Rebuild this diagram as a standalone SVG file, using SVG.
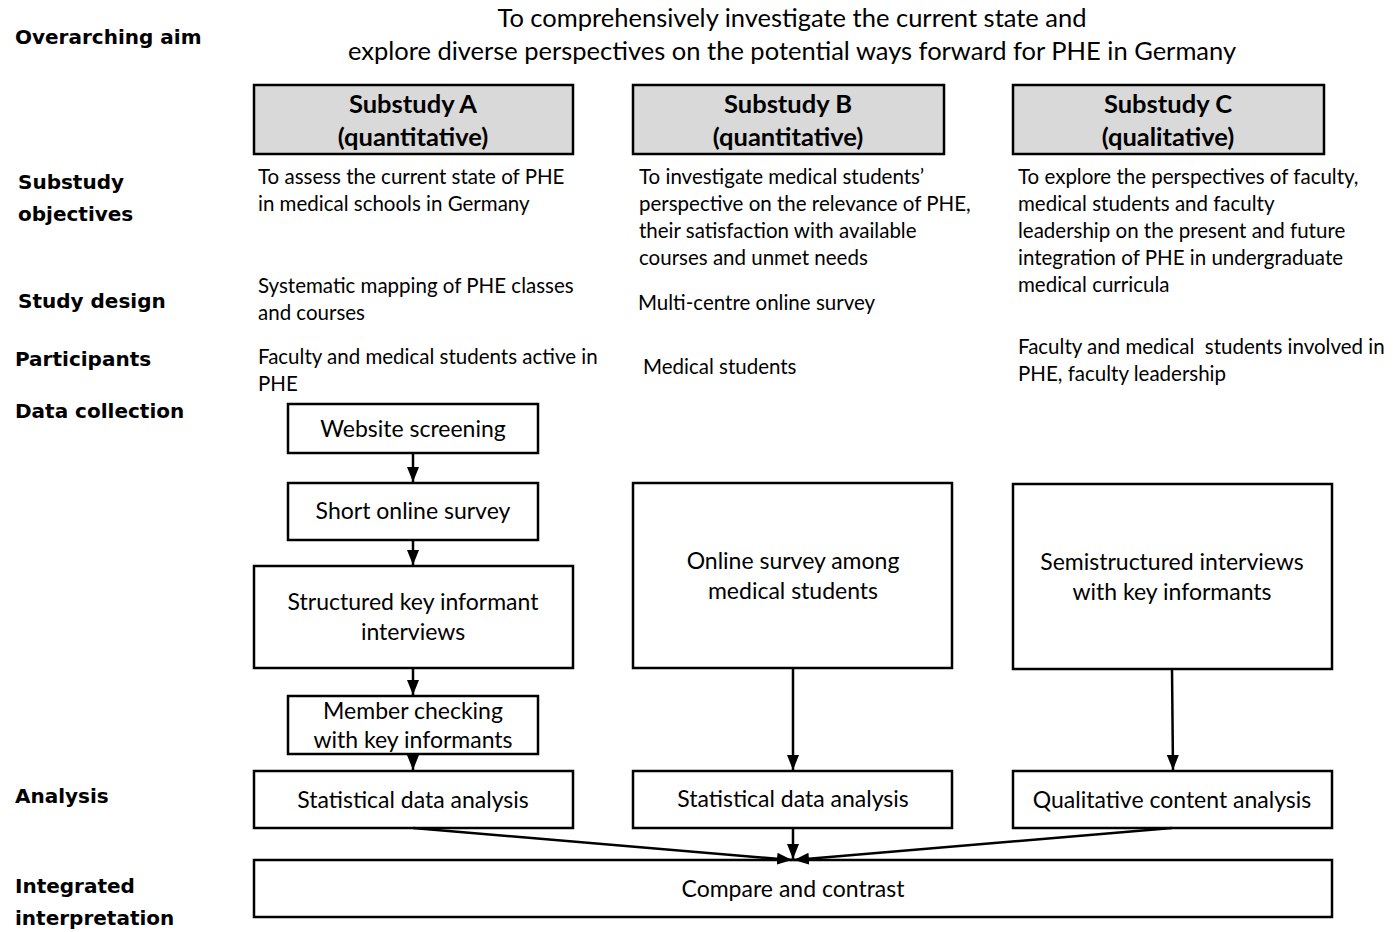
<svg xmlns="http://www.w3.org/2000/svg" width="1399" height="932" viewBox="0 0 1399 932">
<style>
.lbl{font-family:"DejaVu Sans",sans-serif;font-weight:bold;font-size:20px;fill:#000}
.t{font-family:Lato,"Open Sans",sans-serif;font-size:20.5px;fill:#000}
.tc{font-family:Lato,"Open Sans",sans-serif;font-size:23px;fill:#000;text-anchor:middle}
.h{font-family:Lato,"Open Sans",sans-serif;font-weight:bold;font-size:25.5px;fill:#000;text-anchor:middle}
.title{font-family:Lato,"Open Sans",sans-serif;font-size:25.5px;fill:#000;text-anchor:middle}
.box{fill:#fff;stroke:#000;stroke-width:2.5}
.hbox{fill:#d9d9d9;stroke:#000;stroke-width:2.5}
.c{fill:none;stroke:#000;stroke-width:2.5}
</style>
<defs>
<marker id="ah" markerWidth="15" markerHeight="12" refX="15" refY="6" orient="auto" markerUnits="userSpaceOnUse" viewBox="0 0 15 12">
<path d="M0,0 L15,6 L0,12 z" fill="#000"/>
</marker>
</defs>
<rect width="1399" height="932" fill="#fff"/>
<g id="title">
<text class="title" x="792" y="27">To comprehensively investigate the current state and</text>
<text class="title" x="792" y="60">explore diverse perspectives on the potential ways forward for PHE in Germany</text>
</g>
<g id="row-labels">
<text class="lbl" x="15" y="44">Overarching aim</text>
<text class="lbl" x="18" y="189">Substudy</text>
<text class="lbl" x="18" y="221">objectives</text>
<text class="lbl" x="18" y="308">Study design</text>
<text class="lbl" x="15" y="366">Participants</text>
<text class="lbl" x="15" y="418">Data collection</text>
<text class="lbl" x="15" y="803">Analysis</text>
<text class="lbl" x="15" y="893">Integrated</text>
<text class="lbl" x="15" y="925">interpretation</text>
</g>
<g id="substudyA">
<rect class="hbox" x="254" y="85" width="319" height="69"/>
<text class="h" x="413" y="113">Substudy A</text>
<text class="h" x="413" y="146">(quantitative)</text>
</g>
<g id="substudyB">
<rect class="hbox" x="633" y="85" width="311" height="69"/>
<text class="h" x="788" y="113">Substudy B</text>
<text class="h" x="788" y="146">(quantitative)</text>
</g>
<g id="substudyC">
<rect class="hbox" x="1013" y="85" width="311" height="69"/>
<text class="h" x="1168" y="113">Substudy C</text>
<text class="h" x="1168" y="146">(qualitative)</text>
</g>
<g id="objectives">
<text class="t" x="258" y="184">To assess the current state of PHE</text>
<text class="t" x="258" y="211">in medical schools in Germany</text>
<text class="t" x="639" y="184">To investigate medical students’</text>
<text class="t" x="639" y="211">perspective on the relevance of PHE,</text>
<text class="t" x="639" y="238">their satisfaction with available</text>
<text class="t" x="639" y="265">courses and unmet needs</text>
<text class="t" x="1018" y="184">To explore the perspectives of faculty,</text>
<text class="t" x="1018" y="211">medical students and faculty</text>
<text class="t" x="1018" y="238">leadership on the present and future</text>
<text class="t" x="1018" y="265">integration of PHE in undergraduate</text>
<text class="t" x="1018" y="292">medical curricula</text>
</g>
<g id="design">
<text class="t" x="258" y="293">Systematic mapping of PHE classes</text>
<text class="t" x="258" y="320">and courses</text>
<text class="t" x="638" y="310">Multi-centre online survey</text>
</g>
<g id="participants">
<text class="t" x="258" y="364">Faculty and medical students active in</text>
<text class="t" x="258" y="391">PHE</text>
<text class="t" x="643" y="374">Medical students</text>
<text class="t" x="1018" y="354" xml:space="preserve">Faculty and medical  students involved in</text>
<text class="t" x="1018" y="381">PHE, faculty leadership</text>
</g>
<g id="website-screening">
<rect class="box" x="288" y="404" width="250" height="49"/>
<text class="tc" x="413" y="437">Website screening</text>
</g>
<g id="short-survey">
<rect class="box" x="288" y="483" width="250" height="57"/>
<text class="tc" x="413" y="519">Short online survey</text>
</g>
<g id="structured-interviews">
<rect class="box" x="254" y="566" width="319" height="102"/>
<text class="tc" x="413" y="610">Structured key informant</text>
<text class="tc" x="413" y="640">interviews</text>
</g>
<g id="member-checking">
<rect class="box" x="288" y="696" width="250" height="58"/>
<text class="tc" x="413" y="719">Member checking</text>
<text class="tc" x="413" y="748">with key informants</text>
</g>
<g id="analysisA">
<rect class="box" x="254" y="771" width="319" height="57"/>
<text class="tc" x="413" y="808">Statistical data analysis</text>
</g>
<g id="online-survey">
<rect class="box" x="633" y="483" width="319" height="185"/>
<text class="tc" x="793" y="569">Online survey among</text>
<text class="tc" x="793" y="599">medical students</text>
</g>
<g id="analysisB">
<rect class="box" x="633" y="771" width="319" height="57"/>
<text class="tc" x="793" y="807">Statistical data analysis</text>
</g>
<g id="semistructured">
<rect class="box" x="1013" y="484" width="319" height="185"/>
<text class="tc" x="1172" y="570">Semistructured interviews</text>
<text class="tc" x="1172" y="600">with key informants</text>
</g>
<g id="analysisC">
<rect class="box" x="1013" y="771" width="319" height="57"/>
<text class="tc" x="1172" y="808">Qualitative content analysis</text>
</g>
<g id="compare">
<rect class="box" x="254" y="860" width="1078" height="57"/>
<text class="tc" x="793" y="897">Compare and contrast</text>
</g>
<g id="connectors">
<line class="c" x1="413" y1="453" x2="413" y2="482" marker-end="url(#ah)"/>
<line class="c" x1="413" y1="540" x2="413" y2="565" marker-end="url(#ah)"/>
<line class="c" x1="413" y1="668" x2="413" y2="695" marker-end="url(#ah)"/>
<line class="c" x1="413" y1="754" x2="413" y2="770" marker-end="url(#ah)"/>
<line class="c" x1="793" y1="668" x2="793" y2="770" marker-end="url(#ah)"/>
<line class="c" x1="1172" y1="669" x2="1173" y2="770" marker-end="url(#ah)"/>
<line class="c" x1="413" y1="828" x2="792" y2="860" marker-end="url(#ah)"/>
<line class="c" x1="793" y1="828" x2="793" y2="859" marker-end="url(#ah)"/>
<line class="c" x1="1172" y1="828" x2="794" y2="860" marker-end="url(#ah)"/>
</g>
</svg>
